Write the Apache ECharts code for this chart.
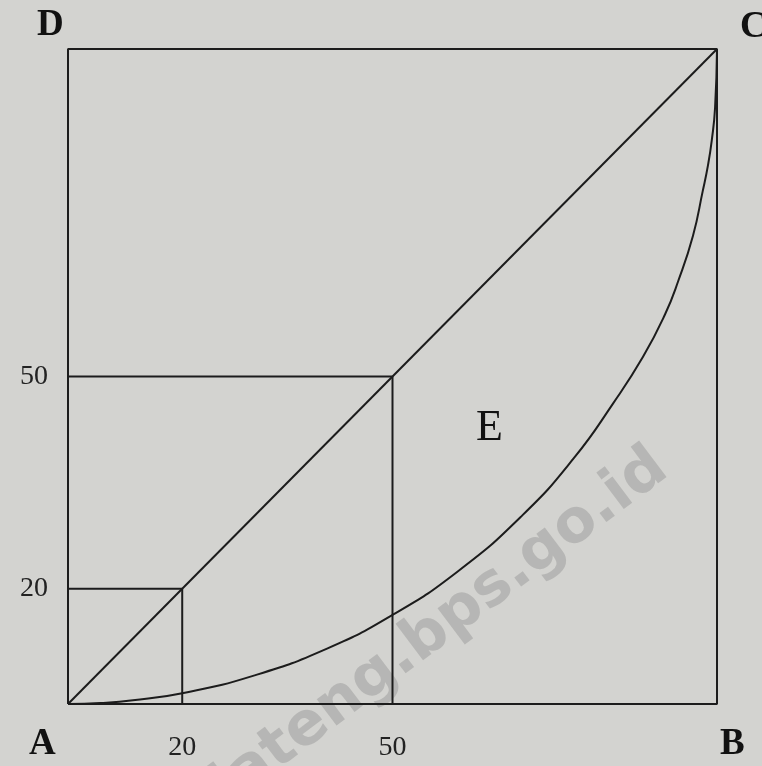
<!DOCTYPE html>
<html>
<head>
<meta charset="utf-8">
<script src="https://cdn.jsdelivr.net/npm/echarts@6/dist/echarts.min.js"></script>
<style>
  html, body { margin: 0; padding: 0; background: #d3d3d0; }
  #chart { width: 762px; height: 766px; }
</style>
</head>
<body>
<div id="chart"></div>
<script>
// Lorenz diagram, percent of population (x) vs percent of income (y)
var tickPositions = [17.6, 50];     // where the guide lines sit in the picture
var tickLabels = ['20', '50'];      // what they are labelled
var lorenzX = [0, 5, 10, 17.6, 28.5, 40, 50, 60, 70, 78, 84, 88.6, 92, 94, 96.3, 97.8, 98.6, 99.2, 99.7, 100];
var lorenzY = [0, 0.15, 0.56, 1.65, 4.3, 8.5, 13.6, 20.2, 28.8, 37.6, 45.9, 53.0, 59.5, 64.5, 71.5, 78.3, 82.2, 86.1, 91, 100];
var boxCorners = [[0, 0], [100, 0], [100, 100], [0, 100], [0, 0]];
var equality = [[0, 0], [100, 100]];

var ink = '#1c1c1c';
var serif = '"Liberation Serif", "DejaVu Serif", serif';

function lineSeries(data, width, smooth) {
  return {
    type: 'line',
    data: data,
    symbol: 'none',
    smooth: smooth || false,
    silent: true,
    lineStyle: { color: ink, width: width }
  };
}

var series = [
  lineSeries(boxCorners, 2),
  lineSeries(equality, 2)
];
// guide squares at 20 and 50
tickPositions.forEach(function (s) {
  series.push(lineSeries([[0, s], [s, s], [s, 0]], 2));
});
series.push(lineSeries(lorenzX.map(function (x, i) { return [x, lorenzY[i]]; }), 2, 0.5));

var myChart = echarts.init(document.getElementById('chart'));
var option = {
  backgroundColor: '#d3d3d0',
  animation: false,
  grid: { left: 68, top: 49, right: 45, bottom: 62 },
  xAxis: {
    type: 'value', min: 0, max: 100,
    axisLine: { show: false }, axisTick: { show: false }, splitLine: { show: false },
    axisLabel: {
      customValues: tickPositions,
      formatter: function (v) { return tickLabels[tickPositions.indexOf(v)] || ''; },
      fontFamily: serif, fontSize: 28, color: '#222', margin: 30
    }
  },
  yAxis: {
    type: 'value', min: 0, max: 100,
    axisLine: { show: false }, axisTick: { show: false }, splitLine: { show: false },
    axisLabel: {
      customValues: tickPositions,
      formatter: function (v) { return tickLabels[tickPositions.indexOf(v)] || ''; },
      fontFamily: serif, fontSize: 28, color: '#222', margin: 20
    }
  },
  graphic: [
    { type: 'text', left: 37, top: 7, style: { text: 'D', font: 'bold 37px ' + serif, fill: '#111' } },
    { type: 'text', left: 740, top: 9, style: { text: 'C', font: 'bold 37px ' + serif, fill: '#111' } },
    { type: 'text', left: 29, top: 726, style: { text: 'A', font: 'bold 37px ' + serif, fill: '#111' } },
    { type: 'text', left: 720, top: 726, style: { text: 'B', font: 'bold 37px ' + serif, fill: '#111' } },
    { type: 'text', left: 476, top: 406, style: { text: 'E', font: '44px ' + serif, fill: '#111' } },
    {
      type: 'text', x: 440, y: 628, rotation: 37 * Math.PI / 180, silent: true,
      style: {
        text: 'jateng.bps.go.id', font: 'bold 60px "DejaVu Sans", sans-serif',
        fill: 'rgba(140,140,140,0.4)', align: 'center', verticalAlign: 'middle'
      }
    }
  ],
  series: series
};
myChart.setOption(option);
</script>
</body>
</html>
